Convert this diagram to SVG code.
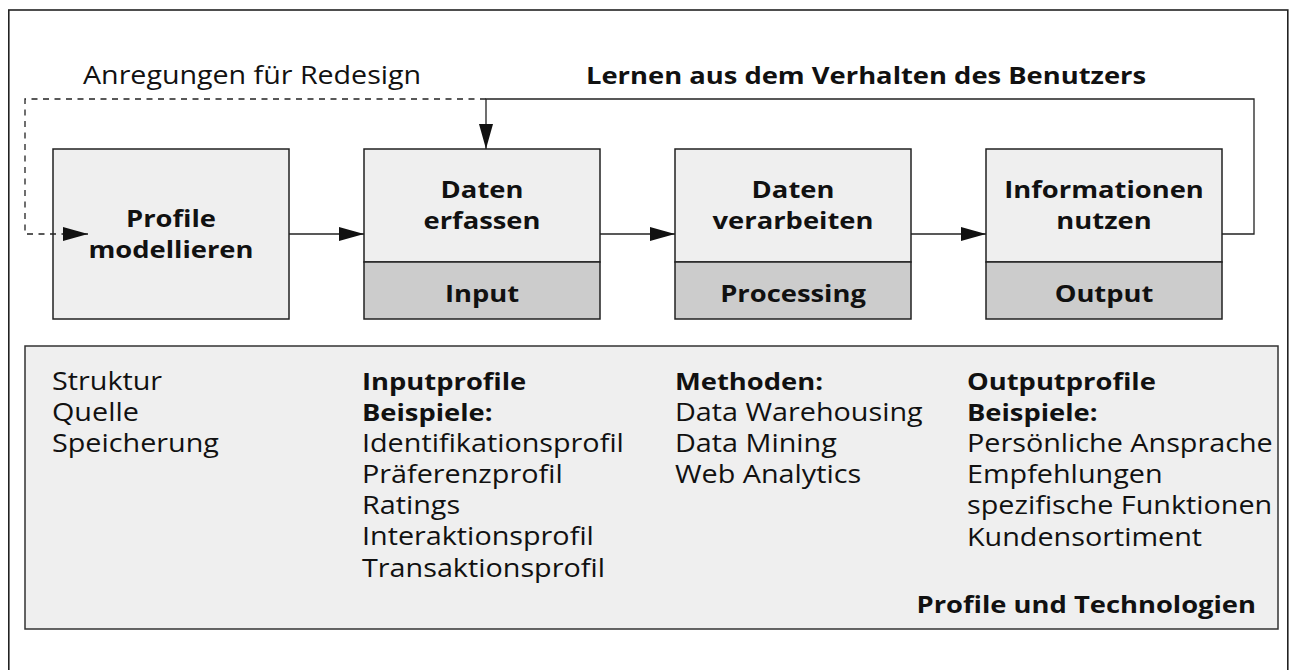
<svg xmlns="http://www.w3.org/2000/svg" width="1294" height="670" viewBox="0 0 1294 670">
  <style>
    .frame { fill: #ffffff; stroke: #222222; stroke-width: 1.6; }
    .box { fill: #efefef; stroke: #222222; stroke-width: 1.5; }
    .band { fill: #cccccc; stroke: #222222; stroke-width: 1.5; }
    .panel { fill: #efefef; stroke: #333333; stroke-width: 1.5; }
    .wire { fill: none; stroke: #222222; stroke-width: 1.3; }
    .dash { fill: none; stroke: #222222; stroke-width: 1.3; stroke-dasharray: 6 5.5; }
    text { font-family: "Open Sans", "Noto Sans", "DejaVu Sans", sans-serif; font-size: 25px; fill: #111111; }
    .b { font-weight: bold; font-size: 24px; }
    .c { text-anchor: middle; }
    .r { text-anchor: end; }
  </style>
  <defs>
    <marker id="arrow" markerUnits="userSpaceOnUse" markerWidth="26" markerHeight="14" refX="25" refY="7" orient="auto" overflow="visible">
      <path d="M0,0 L25,7 L0,14 Z" fill="#111111"/>
    </marker>
  </defs>

  <rect class="frame" x="8.8" y="10" width="1279" height="700"/>

  <!-- feedback labels -->
  <text transform="translate(83 84) scale(1.145 1)">Anregungen für Redesign</text>
  <text class="b" transform="translate(586 84) scale(1.14 1)">Lernen aus dem Verhalten des Benutzers</text>

  <!-- process steps -->
  <g id="profile-modellieren">
    <rect class="box" x="53" y="149" width="236" height="170"/>
    <text class="b c" transform="translate(171 227) scale(1.14 1)">Profile</text>
    <text class="b c" transform="translate(171 258) scale(1.14 1)">modellieren</text>
  </g>
  <g id="daten-erfassen">
    <rect class="box" x="364" y="149" width="236" height="113"/>
    <rect class="band" x="364" y="262" width="236" height="57"/>
    <text class="b c" transform="translate(482 198) scale(1.14 1)">Daten</text>
    <text class="b c" transform="translate(482 229) scale(1.14 1)">erfassen</text>
    <text class="b c" transform="translate(482 302) scale(1.14 1)">Input</text>
  </g>
  <g id="daten-verarbeiten">
    <rect class="box" x="675" y="149" width="236" height="113"/>
    <rect class="band" x="675" y="262" width="236" height="57"/>
    <text class="b c" transform="translate(793 198) scale(1.14 1)">Daten</text>
    <text class="b c" transform="translate(793 229) scale(1.14 1)">verarbeiten</text>
    <text class="b c" transform="translate(793 302) scale(1.14 1)">Processing</text>
  </g>
  <g id="informationen-nutzen">
    <rect class="box" x="986" y="149" width="236" height="113"/>
    <rect class="band" x="986" y="262" width="236" height="57"/>
    <text class="b c" transform="translate(1104 198) scale(1.14 1)">Informationen</text>
    <text class="b c" transform="translate(1104 229) scale(1.14 1)">nutzen</text>
    <text class="b c" transform="translate(1104 302) scale(1.14 1)">Output</text>
  </g>

  <!-- connectors -->
  <g id="connectors">
    <path class="dash" d="M486,99 H25 V234 H88" marker-end="url(#arrow)"/>
    <path class="wire" d="M1222,234 H1254 V99 H486 V149" marker-end="url(#arrow)"/>
    <path class="wire" d="M289,234 H364" marker-end="url(#arrow)"/>
    <path class="wire" d="M600,234 H675" marker-end="url(#arrow)"/>
    <path class="wire" d="M911,234 H986" marker-end="url(#arrow)"/>
  </g>

  <!-- profiles and technologies -->
  <g id="profile-und-technologien">
    <rect class="panel" x="25" y="346" width="1253" height="283"/>
    <g transform="translate(52 0)">
      <text transform="translate(0 390) scale(1.15 1)">Struktur</text>
      <text transform="translate(0 421) scale(1.15 1)">Quelle</text>
      <text transform="translate(0 452) scale(1.15 1)">Speicherung</text>
    </g>
    <g transform="translate(362 0)">
      <text class="b" transform="translate(0 390) scale(1.14 1)">Inputprofile</text>
      <text class="b" transform="translate(0 421) scale(1.14 1)">Beispiele:</text>
      <text transform="translate(0 452) scale(1.15 1)">Identifikationsprofil</text>
      <text transform="translate(0 483) scale(1.15 1)">Präferenzprofil</text>
      <text transform="translate(0 514) scale(1.15 1)">Ratings</text>
      <text transform="translate(0 545) scale(1.15 1)">Interaktionsprofil</text>
      <text transform="translate(0 577) scale(1.15 1)">Transaktionsprofil</text>
    </g>
    <g transform="translate(675 0)">
      <text class="b" transform="translate(0 390) scale(1.14 1)">Methoden:</text>
      <text transform="translate(0 421) scale(1.15 1)">Data Warehousing</text>
      <text transform="translate(0 452) scale(1.15 1)">Data Mining</text>
      <text transform="translate(0 483) scale(1.15 1)">Web Analytics</text>
    </g>
    <g transform="translate(967 0)">
      <text class="b" transform="translate(0 390) scale(1.14 1)">Outputprofile</text>
      <text class="b" transform="translate(0 421) scale(1.14 1)">Beispiele:</text>
      <text transform="translate(0 452) scale(1.15 1)">Persönliche Ansprache</text>
      <text transform="translate(0 483) scale(1.15 1)">Empfehlungen</text>
      <text transform="translate(0 514) scale(1.15 1)">spezifische Funktionen</text>
      <text transform="translate(0 546) scale(1.15 1)">Kundensortiment</text>
    </g>
    <text class="b r" transform="translate(1256 613) scale(1.14 1)">Profile und Technologien</text>
  </g>
</svg>
